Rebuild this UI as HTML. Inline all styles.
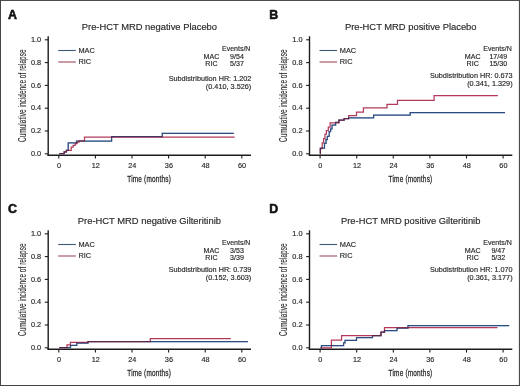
<!DOCTYPE html>
<html><head><meta charset="utf-8"><style>
html,body{margin:0;padding:0;background:#fff;}
svg{display:block;font-family:"Liberation Sans", sans-serif;will-change:transform;}
</style></head><body>
<svg width="520" height="386" viewBox="0 0 520 386">
<rect x="0" y="0" width="520" height="386" fill="#fff"/>
<g transform="translate(0,0)">
<text x="7.9" y="18.7" font-size="12.4" font-weight="bold" fill="#111" stroke="#111" stroke-width="0.55">A</text>
<text x="149.4" y="30.3" font-size="9.4" text-anchor="middle" fill="#2a2a2a" stroke="#2a2a2a" stroke-width="0.16">Pre-HCT MRD negative Placebo</text>
<path d="M48.2,36.3V155.75" stroke="#1c1c1c" stroke-width="1.4" fill="none"/>
<path d="M47.5,155.2H251" stroke="#1c1c1c" stroke-width="1.35" fill="none"/>
<path d="M44.8,153.80H48" stroke="#1c1c1c" stroke-width="1.1"/>
<text x="41.2" y="155.90" font-size="7.35" text-anchor="end" fill="#2a2a2a" stroke="#2a2a2a" stroke-width="0.16">0.0</text>
<path d="M44.8,131.00H48" stroke="#1c1c1c" stroke-width="1.1"/>
<text x="41.2" y="133.10" font-size="7.35" text-anchor="end" fill="#2a2a2a" stroke="#2a2a2a" stroke-width="0.16">0.2</text>
<path d="M44.8,108.20H48" stroke="#1c1c1c" stroke-width="1.1"/>
<text x="41.2" y="110.30" font-size="7.35" text-anchor="end" fill="#2a2a2a" stroke="#2a2a2a" stroke-width="0.16">0.4</text>
<path d="M44.8,85.40H48" stroke="#1c1c1c" stroke-width="1.1"/>
<text x="41.2" y="87.50" font-size="7.35" text-anchor="end" fill="#2a2a2a" stroke="#2a2a2a" stroke-width="0.16">0.6</text>
<path d="M44.8,62.60H48" stroke="#1c1c1c" stroke-width="1.1"/>
<text x="41.2" y="64.70" font-size="7.35" text-anchor="end" fill="#2a2a2a" stroke="#2a2a2a" stroke-width="0.16">0.8</text>
<path d="M44.8,39.80H48" stroke="#1c1c1c" stroke-width="1.1"/>
<text x="41.2" y="41.90" font-size="7.35" text-anchor="end" fill="#2a2a2a" stroke="#2a2a2a" stroke-width="0.16">1.0</text>
<path d="M58.80,155.5V158.6" stroke="#1c1c1c" stroke-width="1.1"/>
<text x="59.10" y="168.2" font-size="7.25" text-anchor="middle" fill="#2a2a2a" stroke="#2a2a2a" stroke-width="0.16">0</text>
<path d="M95.40,155.5V158.6" stroke="#1c1c1c" stroke-width="1.1"/>
<text x="95.70" y="168.2" font-size="7.25" text-anchor="middle" fill="#2a2a2a" stroke="#2a2a2a" stroke-width="0.16">12</text>
<path d="M132.00,155.5V158.6" stroke="#1c1c1c" stroke-width="1.1"/>
<text x="132.30" y="168.2" font-size="7.25" text-anchor="middle" fill="#2a2a2a" stroke="#2a2a2a" stroke-width="0.16">24</text>
<path d="M168.60,155.5V158.6" stroke="#1c1c1c" stroke-width="1.1"/>
<text x="168.90" y="168.2" font-size="7.25" text-anchor="middle" fill="#2a2a2a" stroke="#2a2a2a" stroke-width="0.16">36</text>
<path d="M205.20,155.5V158.6" stroke="#1c1c1c" stroke-width="1.1"/>
<text x="205.50" y="168.2" font-size="7.25" text-anchor="middle" fill="#2a2a2a" stroke="#2a2a2a" stroke-width="0.16">48</text>
<path d="M241.80,155.5V158.6" stroke="#1c1c1c" stroke-width="1.1"/>
<text x="242.10" y="168.2" font-size="7.25" text-anchor="middle" fill="#2a2a2a" stroke="#2a2a2a" stroke-width="0.16">60</text>
<text transform="translate(127.3,181.8) scale(0.66,1)" x="0" y="0" font-size="9.8" textLength="66.06" lengthAdjust="spacing" fill="#2a2a2a" stroke="#2a2a2a" stroke-width="0.3">Time (months)</text>
<text transform="translate(25.5,142) rotate(-90) scale(0.64,1)" x="0" y="0" font-size="10" textLength="144.53" lengthAdjust="spacing" fill="#2a2a2a" stroke="#2a2a2a" stroke-width="0.12">Cumulative incidence of relapse</text>
<path d="M58.2,50.5H75.8" stroke="#3e5a76" stroke-width="1.1"/>
<path d="M58.2,62H75.8" stroke="#a04a5e" stroke-width="1.1"/>
<text x="78.5" y="52.9" font-size="7.35" fill="#2a2a2a" stroke="#2a2a2a" stroke-width="0.16">MAC</text>
<text x="78.5" y="64.4" font-size="7.35" fill="#2a2a2a" stroke="#2a2a2a" stroke-width="0.16">RIC</text>
<text x="250.4" y="50.5" font-size="7.0" text-anchor="end" fill="#2a2a2a" stroke="#2a2a2a" stroke-width="0.16">Events/N</text>
<text x="211.4" y="58.5" font-size="7.1" text-anchor="middle" fill="#2a2a2a" stroke="#2a2a2a" stroke-width="0.16">MAC</text>
<text x="211.4" y="66.3" font-size="7.1" text-anchor="middle" fill="#2a2a2a" stroke="#2a2a2a" stroke-width="0.16">RIC</text>
<text x="237" y="58.5" font-size="7.1" text-anchor="middle" fill="#2a2a2a" stroke="#2a2a2a" stroke-width="0.16">9/54</text>
<text x="237" y="66.3" font-size="7.1" text-anchor="middle" fill="#2a2a2a" stroke="#2a2a2a" stroke-width="0.16">5/37</text>
<text x="251.3" y="81.4" font-size="7.25" text-anchor="end" fill="#2a2a2a" stroke="#2a2a2a" stroke-width="0.16">Subdistribution HR: 1.202</text>
<text x="251.3" y="89.0" font-size="7.3" text-anchor="end" fill="#2a2a2a" stroke="#2a2a2a" stroke-width="0.16">(0.410, 3.526)</text>
<path d="M59.20,153.70H64.20V151.80H66.30V150.30H68.20V142.90H76.50V141.10H111.60V136.70H162.30V133.30H233.80" stroke="#5579a6" stroke-width="1.25" fill="none"/>
<path d="M59.20,153.70H64.20V151.80H66.60V150.30H71.20V147.20H73.10V145.40H75.20V143.70H77.10V142.00H79.00V140.80H84.50V137.20H234.60" stroke="#b23a5a" stroke-width="1.25" fill="none"/>
<path d="M59.20,153.70H64.20V151.80H66.30V150.30H68.20V142.90H76.50V141.10H111.60V136.70H162.30V133.30H233.80" stroke="#5579a6" stroke-width="1.25" fill="none" style="mix-blend-mode:multiply;opacity:0.7"/>
</g><g transform="translate(261.3,0)">
<text x="7.9" y="18.7" font-size="12.4" font-weight="bold" fill="#111" stroke="#111" stroke-width="0.55">B</text>
<text x="149.4" y="30.3" font-size="9.4" text-anchor="middle" fill="#2a2a2a" stroke="#2a2a2a" stroke-width="0.16">Pre-HCT MRD positive Placebo</text>
<path d="M48.2,36.3V155.75" stroke="#1c1c1c" stroke-width="1.4" fill="none"/>
<path d="M47.5,155.2H251" stroke="#1c1c1c" stroke-width="1.35" fill="none"/>
<path d="M44.8,153.80H48" stroke="#1c1c1c" stroke-width="1.1"/>
<text x="41.2" y="155.90" font-size="7.35" text-anchor="end" fill="#2a2a2a" stroke="#2a2a2a" stroke-width="0.16">0.0</text>
<path d="M44.8,131.00H48" stroke="#1c1c1c" stroke-width="1.1"/>
<text x="41.2" y="133.10" font-size="7.35" text-anchor="end" fill="#2a2a2a" stroke="#2a2a2a" stroke-width="0.16">0.2</text>
<path d="M44.8,108.20H48" stroke="#1c1c1c" stroke-width="1.1"/>
<text x="41.2" y="110.30" font-size="7.35" text-anchor="end" fill="#2a2a2a" stroke="#2a2a2a" stroke-width="0.16">0.4</text>
<path d="M44.8,85.40H48" stroke="#1c1c1c" stroke-width="1.1"/>
<text x="41.2" y="87.50" font-size="7.35" text-anchor="end" fill="#2a2a2a" stroke="#2a2a2a" stroke-width="0.16">0.6</text>
<path d="M44.8,62.60H48" stroke="#1c1c1c" stroke-width="1.1"/>
<text x="41.2" y="64.70" font-size="7.35" text-anchor="end" fill="#2a2a2a" stroke="#2a2a2a" stroke-width="0.16">0.8</text>
<path d="M44.8,39.80H48" stroke="#1c1c1c" stroke-width="1.1"/>
<text x="41.2" y="41.90" font-size="7.35" text-anchor="end" fill="#2a2a2a" stroke="#2a2a2a" stroke-width="0.16">1.0</text>
<path d="M58.80,155.5V158.6" stroke="#1c1c1c" stroke-width="1.1"/>
<text x="59.10" y="168.2" font-size="7.25" text-anchor="middle" fill="#2a2a2a" stroke="#2a2a2a" stroke-width="0.16">0</text>
<path d="M95.40,155.5V158.6" stroke="#1c1c1c" stroke-width="1.1"/>
<text x="95.70" y="168.2" font-size="7.25" text-anchor="middle" fill="#2a2a2a" stroke="#2a2a2a" stroke-width="0.16">12</text>
<path d="M132.00,155.5V158.6" stroke="#1c1c1c" stroke-width="1.1"/>
<text x="132.30" y="168.2" font-size="7.25" text-anchor="middle" fill="#2a2a2a" stroke="#2a2a2a" stroke-width="0.16">24</text>
<path d="M168.60,155.5V158.6" stroke="#1c1c1c" stroke-width="1.1"/>
<text x="168.90" y="168.2" font-size="7.25" text-anchor="middle" fill="#2a2a2a" stroke="#2a2a2a" stroke-width="0.16">36</text>
<path d="M205.20,155.5V158.6" stroke="#1c1c1c" stroke-width="1.1"/>
<text x="205.50" y="168.2" font-size="7.25" text-anchor="middle" fill="#2a2a2a" stroke="#2a2a2a" stroke-width="0.16">48</text>
<path d="M241.80,155.5V158.6" stroke="#1c1c1c" stroke-width="1.1"/>
<text x="242.10" y="168.2" font-size="7.25" text-anchor="middle" fill="#2a2a2a" stroke="#2a2a2a" stroke-width="0.16">60</text>
<text transform="translate(127.3,181.8) scale(0.66,1)" x="0" y="0" font-size="9.8" textLength="66.06" lengthAdjust="spacing" fill="#2a2a2a" stroke="#2a2a2a" stroke-width="0.3">Time (months)</text>
<text transform="translate(25.5,142) rotate(-90) scale(0.64,1)" x="0" y="0" font-size="10" textLength="144.53" lengthAdjust="spacing" fill="#2a2a2a" stroke="#2a2a2a" stroke-width="0.12">Cumulative incidence of relapse</text>
<path d="M58.2,50.5H75.8" stroke="#3e5a76" stroke-width="1.1"/>
<path d="M58.2,62H75.8" stroke="#a04a5e" stroke-width="1.1"/>
<text x="78.5" y="52.9" font-size="7.35" fill="#2a2a2a" stroke="#2a2a2a" stroke-width="0.16">MAC</text>
<text x="78.5" y="64.4" font-size="7.35" fill="#2a2a2a" stroke="#2a2a2a" stroke-width="0.16">RIC</text>
<text x="250.4" y="50.5" font-size="7.0" text-anchor="end" fill="#2a2a2a" stroke="#2a2a2a" stroke-width="0.16">Events/N</text>
<text x="211.4" y="58.5" font-size="7.1" text-anchor="middle" fill="#2a2a2a" stroke="#2a2a2a" stroke-width="0.16">MAC</text>
<text x="211.4" y="66.3" font-size="7.1" text-anchor="middle" fill="#2a2a2a" stroke="#2a2a2a" stroke-width="0.16">RIC</text>
<text x="237" y="58.5" font-size="7.1" text-anchor="middle" fill="#2a2a2a" stroke="#2a2a2a" stroke-width="0.16">17/49</text>
<text x="237" y="66.3" font-size="7.1" text-anchor="middle" fill="#2a2a2a" stroke="#2a2a2a" stroke-width="0.16">15/30</text>
<text x="251.3" y="78.0" font-size="7.25" text-anchor="end" fill="#2a2a2a" stroke="#2a2a2a" stroke-width="0.16">Subdistribution HR: 0.673</text>
<text x="251.3" y="85.6" font-size="7.3" text-anchor="end" fill="#2a2a2a" stroke="#2a2a2a" stroke-width="0.16">(0.341, 1.329)</text>
<path d="M58.90,153.70H59.10V148.20H63.20V143.40H64.70V139.60H66.00V136.40H67.90V131.70H69.30V128.90H70.70V125.10H74.30V122.40H77.60V120.10H82.80V118.70H87.40V117.80H112.30V115.10H148.90V112.70H243.70" stroke="#5579a6" stroke-width="1.25" fill="none"/>
<path d="M58.90,153.70H59.00V148.50H60.90V142.90H62.30V138.70H63.70V134.00H65.10V130.70H67.00V127.00H68.80V122.80H77.60V120.10H82.80V118.70H87.40V115.60H95.20V112.20H102.10V107.90H125.70V104.40H136.20V100.40H172.80V95.60H236.60" stroke="#b23a5a" stroke-width="1.25" fill="none"/>
<path d="M58.90,153.70H59.10V148.20H63.20V143.40H64.70V139.60H66.00V136.40H67.90V131.70H69.30V128.90H70.70V125.10H74.30V122.40H77.60V120.10H82.80V118.70H87.40V117.80H112.30V115.10H148.90V112.70H243.70" stroke="#5579a6" stroke-width="1.25" fill="none" style="mix-blend-mode:multiply;opacity:0.7"/>
</g><g transform="translate(0,194)">
<text x="7.9" y="18.7" font-size="12.4" font-weight="bold" fill="#111" stroke="#111" stroke-width="0.55">C</text>
<text x="149.4" y="30.3" font-size="9.4" text-anchor="middle" fill="#2a2a2a" stroke="#2a2a2a" stroke-width="0.16">Pre-HCT MRD negative Gilteritinib</text>
<path d="M48.2,36.3V155.75" stroke="#1c1c1c" stroke-width="1.4" fill="none"/>
<path d="M47.5,155.2H251" stroke="#1c1c1c" stroke-width="1.35" fill="none"/>
<path d="M44.8,153.80H48" stroke="#1c1c1c" stroke-width="1.1"/>
<text x="41.2" y="155.90" font-size="7.35" text-anchor="end" fill="#2a2a2a" stroke="#2a2a2a" stroke-width="0.16">0.0</text>
<path d="M44.8,131.00H48" stroke="#1c1c1c" stroke-width="1.1"/>
<text x="41.2" y="133.10" font-size="7.35" text-anchor="end" fill="#2a2a2a" stroke="#2a2a2a" stroke-width="0.16">0.2</text>
<path d="M44.8,108.20H48" stroke="#1c1c1c" stroke-width="1.1"/>
<text x="41.2" y="110.30" font-size="7.35" text-anchor="end" fill="#2a2a2a" stroke="#2a2a2a" stroke-width="0.16">0.4</text>
<path d="M44.8,85.40H48" stroke="#1c1c1c" stroke-width="1.1"/>
<text x="41.2" y="87.50" font-size="7.35" text-anchor="end" fill="#2a2a2a" stroke="#2a2a2a" stroke-width="0.16">0.6</text>
<path d="M44.8,62.60H48" stroke="#1c1c1c" stroke-width="1.1"/>
<text x="41.2" y="64.70" font-size="7.35" text-anchor="end" fill="#2a2a2a" stroke="#2a2a2a" stroke-width="0.16">0.8</text>
<path d="M44.8,39.80H48" stroke="#1c1c1c" stroke-width="1.1"/>
<text x="41.2" y="41.90" font-size="7.35" text-anchor="end" fill="#2a2a2a" stroke="#2a2a2a" stroke-width="0.16">1.0</text>
<path d="M58.80,155.5V158.6" stroke="#1c1c1c" stroke-width="1.1"/>
<text x="59.10" y="168.2" font-size="7.25" text-anchor="middle" fill="#2a2a2a" stroke="#2a2a2a" stroke-width="0.16">0</text>
<path d="M95.40,155.5V158.6" stroke="#1c1c1c" stroke-width="1.1"/>
<text x="95.70" y="168.2" font-size="7.25" text-anchor="middle" fill="#2a2a2a" stroke="#2a2a2a" stroke-width="0.16">12</text>
<path d="M132.00,155.5V158.6" stroke="#1c1c1c" stroke-width="1.1"/>
<text x="132.30" y="168.2" font-size="7.25" text-anchor="middle" fill="#2a2a2a" stroke="#2a2a2a" stroke-width="0.16">24</text>
<path d="M168.60,155.5V158.6" stroke="#1c1c1c" stroke-width="1.1"/>
<text x="168.90" y="168.2" font-size="7.25" text-anchor="middle" fill="#2a2a2a" stroke="#2a2a2a" stroke-width="0.16">36</text>
<path d="M205.20,155.5V158.6" stroke="#1c1c1c" stroke-width="1.1"/>
<text x="205.50" y="168.2" font-size="7.25" text-anchor="middle" fill="#2a2a2a" stroke="#2a2a2a" stroke-width="0.16">48</text>
<path d="M241.80,155.5V158.6" stroke="#1c1c1c" stroke-width="1.1"/>
<text x="242.10" y="168.2" font-size="7.25" text-anchor="middle" fill="#2a2a2a" stroke="#2a2a2a" stroke-width="0.16">60</text>
<text transform="translate(127.3,181.8) scale(0.66,1)" x="0" y="0" font-size="9.8" textLength="66.06" lengthAdjust="spacing" fill="#2a2a2a" stroke="#2a2a2a" stroke-width="0.3">Time (months)</text>
<text transform="translate(25.5,142) rotate(-90) scale(0.64,1)" x="0" y="0" font-size="10" textLength="144.53" lengthAdjust="spacing" fill="#2a2a2a" stroke="#2a2a2a" stroke-width="0.12">Cumulative incidence of relapse</text>
<path d="M58.2,50.5H75.8" stroke="#3e5a76" stroke-width="1.1"/>
<path d="M58.2,62H75.8" stroke="#a04a5e" stroke-width="1.1"/>
<text x="78.5" y="52.9" font-size="7.35" fill="#2a2a2a" stroke="#2a2a2a" stroke-width="0.16">MAC</text>
<text x="78.5" y="64.4" font-size="7.35" fill="#2a2a2a" stroke="#2a2a2a" stroke-width="0.16">RIC</text>
<text x="250.4" y="50.5" font-size="7.0" text-anchor="end" fill="#2a2a2a" stroke="#2a2a2a" stroke-width="0.16">Events/N</text>
<text x="211.4" y="58.5" font-size="7.1" text-anchor="middle" fill="#2a2a2a" stroke="#2a2a2a" stroke-width="0.16">MAC</text>
<text x="211.4" y="66.3" font-size="7.1" text-anchor="middle" fill="#2a2a2a" stroke="#2a2a2a" stroke-width="0.16">RIC</text>
<text x="237" y="58.5" font-size="7.1" text-anchor="middle" fill="#2a2a2a" stroke="#2a2a2a" stroke-width="0.16">3/53</text>
<text x="237" y="66.3" font-size="7.1" text-anchor="middle" fill="#2a2a2a" stroke="#2a2a2a" stroke-width="0.16">3/39</text>
<text x="251.3" y="78.0" font-size="7.25" text-anchor="end" fill="#2a2a2a" stroke="#2a2a2a" stroke-width="0.16">Subdistribution HR: 0.739</text>
<text x="251.3" y="85.6" font-size="7.3" text-anchor="end" fill="#2a2a2a" stroke="#2a2a2a" stroke-width="0.16">(0.152, 3.603)</text>
<path d="M59.20,153.50H70.50V151.40H76.75V149.00H88.00V147.50H247.90" stroke="#5579a6" stroke-width="1.25" fill="none"/>
<path d="M59.20,153.50H67.00V150.90H70.40V148.30H88.00V147.50H150.30V144.50H230.80" stroke="#b23a5a" stroke-width="1.25" fill="none"/>
<path d="M59.20,153.50H70.50V151.40H76.75V149.00H88.00V147.50H247.90" stroke="#5579a6" stroke-width="1.25" fill="none" style="mix-blend-mode:multiply;opacity:0.7"/>
</g><g transform="translate(261.3,194)">
<text x="7.9" y="18.7" font-size="12.4" font-weight="bold" fill="#111" stroke="#111" stroke-width="0.55">D</text>
<text x="149.4" y="30.3" font-size="9.4" text-anchor="middle" fill="#2a2a2a" stroke="#2a2a2a" stroke-width="0.16">Pre-HCT MRD positive Gilteritinib</text>
<path d="M48.2,36.3V155.75" stroke="#1c1c1c" stroke-width="1.4" fill="none"/>
<path d="M47.5,155.2H251" stroke="#1c1c1c" stroke-width="1.35" fill="none"/>
<path d="M44.8,153.80H48" stroke="#1c1c1c" stroke-width="1.1"/>
<text x="41.2" y="155.90" font-size="7.35" text-anchor="end" fill="#2a2a2a" stroke="#2a2a2a" stroke-width="0.16">0.0</text>
<path d="M44.8,131.00H48" stroke="#1c1c1c" stroke-width="1.1"/>
<text x="41.2" y="133.10" font-size="7.35" text-anchor="end" fill="#2a2a2a" stroke="#2a2a2a" stroke-width="0.16">0.2</text>
<path d="M44.8,108.20H48" stroke="#1c1c1c" stroke-width="1.1"/>
<text x="41.2" y="110.30" font-size="7.35" text-anchor="end" fill="#2a2a2a" stroke="#2a2a2a" stroke-width="0.16">0.4</text>
<path d="M44.8,85.40H48" stroke="#1c1c1c" stroke-width="1.1"/>
<text x="41.2" y="87.50" font-size="7.35" text-anchor="end" fill="#2a2a2a" stroke="#2a2a2a" stroke-width="0.16">0.6</text>
<path d="M44.8,62.60H48" stroke="#1c1c1c" stroke-width="1.1"/>
<text x="41.2" y="64.70" font-size="7.35" text-anchor="end" fill="#2a2a2a" stroke="#2a2a2a" stroke-width="0.16">0.8</text>
<path d="M44.8,39.80H48" stroke="#1c1c1c" stroke-width="1.1"/>
<text x="41.2" y="41.90" font-size="7.35" text-anchor="end" fill="#2a2a2a" stroke="#2a2a2a" stroke-width="0.16">1.0</text>
<path d="M58.80,155.5V158.6" stroke="#1c1c1c" stroke-width="1.1"/>
<text x="59.10" y="168.2" font-size="7.25" text-anchor="middle" fill="#2a2a2a" stroke="#2a2a2a" stroke-width="0.16">0</text>
<path d="M95.40,155.5V158.6" stroke="#1c1c1c" stroke-width="1.1"/>
<text x="95.70" y="168.2" font-size="7.25" text-anchor="middle" fill="#2a2a2a" stroke="#2a2a2a" stroke-width="0.16">12</text>
<path d="M132.00,155.5V158.6" stroke="#1c1c1c" stroke-width="1.1"/>
<text x="132.30" y="168.2" font-size="7.25" text-anchor="middle" fill="#2a2a2a" stroke="#2a2a2a" stroke-width="0.16">24</text>
<path d="M168.60,155.5V158.6" stroke="#1c1c1c" stroke-width="1.1"/>
<text x="168.90" y="168.2" font-size="7.25" text-anchor="middle" fill="#2a2a2a" stroke="#2a2a2a" stroke-width="0.16">36</text>
<path d="M205.20,155.5V158.6" stroke="#1c1c1c" stroke-width="1.1"/>
<text x="205.50" y="168.2" font-size="7.25" text-anchor="middle" fill="#2a2a2a" stroke="#2a2a2a" stroke-width="0.16">48</text>
<path d="M241.80,155.5V158.6" stroke="#1c1c1c" stroke-width="1.1"/>
<text x="242.10" y="168.2" font-size="7.25" text-anchor="middle" fill="#2a2a2a" stroke="#2a2a2a" stroke-width="0.16">60</text>
<text transform="translate(127.3,181.8) scale(0.66,1)" x="0" y="0" font-size="9.8" textLength="66.06" lengthAdjust="spacing" fill="#2a2a2a" stroke="#2a2a2a" stroke-width="0.3">Time (months)</text>
<text transform="translate(25.5,142) rotate(-90) scale(0.64,1)" x="0" y="0" font-size="10" textLength="144.53" lengthAdjust="spacing" fill="#2a2a2a" stroke="#2a2a2a" stroke-width="0.12">Cumulative incidence of relapse</text>
<path d="M58.2,50.5H75.8" stroke="#3e5a76" stroke-width="1.1"/>
<path d="M58.2,62H75.8" stroke="#a04a5e" stroke-width="1.1"/>
<text x="78.5" y="52.9" font-size="7.35" fill="#2a2a2a" stroke="#2a2a2a" stroke-width="0.16">MAC</text>
<text x="78.5" y="64.4" font-size="7.35" fill="#2a2a2a" stroke="#2a2a2a" stroke-width="0.16">RIC</text>
<text x="250.4" y="50.5" font-size="7.0" text-anchor="end" fill="#2a2a2a" stroke="#2a2a2a" stroke-width="0.16">Events/N</text>
<text x="211.4" y="58.5" font-size="7.1" text-anchor="middle" fill="#2a2a2a" stroke="#2a2a2a" stroke-width="0.16">MAC</text>
<text x="211.4" y="66.3" font-size="7.1" text-anchor="middle" fill="#2a2a2a" stroke="#2a2a2a" stroke-width="0.16">RIC</text>
<text x="237" y="58.5" font-size="7.1" text-anchor="middle" fill="#2a2a2a" stroke="#2a2a2a" stroke-width="0.16">9/47</text>
<text x="237" y="66.3" font-size="7.1" text-anchor="middle" fill="#2a2a2a" stroke="#2a2a2a" stroke-width="0.16">5/32</text>
<text x="251.3" y="78.0" font-size="7.25" text-anchor="end" fill="#2a2a2a" stroke="#2a2a2a" stroke-width="0.16">Subdistribution HR: 1.070</text>
<text x="251.3" y="85.6" font-size="7.3" text-anchor="end" fill="#2a2a2a" stroke="#2a2a2a" stroke-width="0.16">(0.361, 3.177)</text>
<path d="M59.20,153.80H60.20V151.50H82.30V148.80H83.70V146.40H95.20V143.60H111.20V141.50H119.70V138.00H123.20V136.50H135.70V134.00H146.70V131.60H247.90" stroke="#5579a6" stroke-width="1.25" fill="none"/>
<path d="M59.20,153.80H70.10V146.20H80.30V141.50H119.70V138.00H123.20V133.70H236.20" stroke="#b23a5a" stroke-width="1.25" fill="none"/>
<path d="M59.20,153.80H60.20V151.50H82.30V148.80H83.70V146.40H95.20V143.60H111.20V141.50H119.70V138.00H123.20V136.50H135.70V134.00H146.70V131.60H247.90" stroke="#5579a6" stroke-width="1.25" fill="none" style="mix-blend-mode:multiply;opacity:0.7"/>
</g>
<path d="M0,0.5H520" stroke="#4c4c4c" stroke-width="1"/>
<path d="M0.5,0V386" stroke="#444" stroke-width="1"/>
<path d="M519.45,0V386" stroke="#4a4a4a" stroke-width="1.1"/>
<path d="M0,385.45H520" stroke="#444" stroke-width="1.1"/>
</svg>
</body></html>
